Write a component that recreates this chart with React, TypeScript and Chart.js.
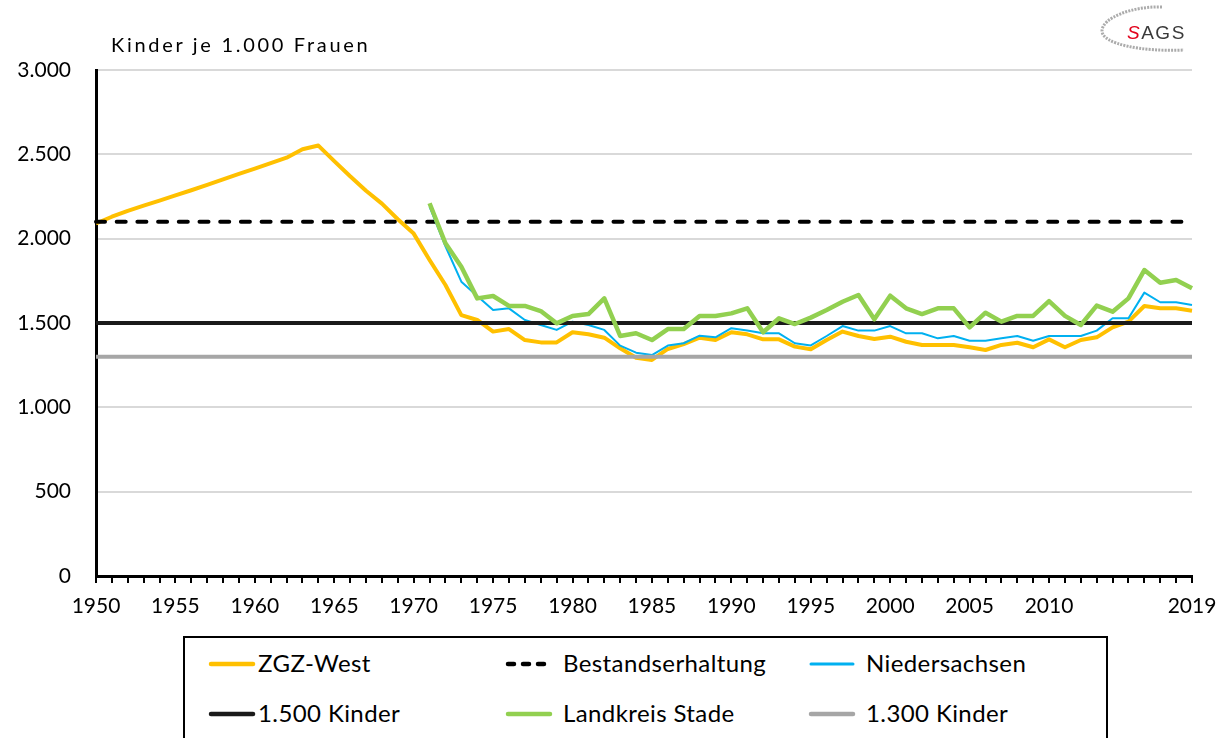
import React, { useEffect, useRef } from 'react';
import { Chart, registerables } from 'chart.js';

Chart.register(...registerables);

const years = [
  '1950', '1951', '1952', '1953', '1954', '1955', '1956', '1957', '1958', '1959',
  '1960', '1961', '1962', '1963', '1964', '1965', '1966', '1967', '1968', '1969',
  '1970', '1971', '1972', '1973', '1974', '1975', '1976', '1977', '1978', '1979',
  '1980', '1981', '1982', '1983', '1984', '1985', '1986', '1987', '1988', '1989',
  '1990', '1991', '1992', '1993', '1994', '1995', '1996', '1997', '1998', '1999',
  '2000', '2001', '2002', '2003', '2004', '2005', '2006', '2007', '2008', '2009',
  '2010', '2011', '2012', '2013', '2014', '2015', '2016', '2017', '2018', '2019',
];

const xTickLabels = ['1950', '1955', '1960', '1965', '1970', '1975', '1980', '1985', '1990', '1995', '2000', '2005', '2010', '2019'];

const zgzWest = [
  2090, 2130, 2165, 2196, 2226, 2257, 2287, 2319, 2352, 2384,
  2415, 2448, 2480, 2530, 2552, 2460, 2370, 2284, 2208, 2115,
  2030, 1874, 1725, 1547, 1518, 1449, 1464, 1399, 1385, 1385,
  1445, 1433, 1413, 1350, 1294, 1281, 1346, 1375, 1413, 1399,
  1445, 1433, 1403, 1403, 1360, 1344, 1399, 1449, 1423, 1405,
  1419, 1389, 1370, 1370, 1370, 1356, 1340, 1370, 1383, 1356,
  1403, 1356, 1399, 1415, 1474, 1508, 1601, 1587, 1587, 1573,
];

const niedersachsen = [
  null, null, null, null, null, null, null, null, null, null,
  null, null, null, null, null, null, null, null, null, null,
  null, 2190, 1955, 1745, 1660, 1577, 1587, 1518, 1488, 1459,
  1508, 1488, 1459, 1366, 1324, 1310, 1366, 1380, 1425, 1415,
  1469, 1455, 1439, 1439, 1380, 1367, 1423, 1482, 1455, 1455,
  1482, 1439, 1439, 1409, 1423, 1395, 1395, 1409, 1423, 1395,
  1423, 1423, 1423, 1455, 1528, 1528, 1680, 1623, 1623, 1607,
];

const landkreisStade = [
  null, null, null, null, null, null, null, null, null, null,
  null, null, null, null, null, null, null, null, null, null,
  null, 2210, 1973, 1834, 1646, 1660, 1601, 1601, 1571, 1498,
  1542, 1553, 1646, 1423, 1439, 1399, 1464, 1464, 1542, 1542,
  1557, 1587, 1445, 1528, 1494, 1532, 1577, 1626, 1666, 1522,
  1662, 1587, 1553, 1587, 1587, 1474, 1561, 1508, 1542, 1542,
  1630, 1542, 1488, 1603, 1567, 1646, 1814, 1739, 1755, 1706,
];

const bestandserhaltung = 2100;
const kinder1500 = 1500;
const kinder1300 = 1300;

const seriesNames = ['ZGZ-West', 'Bestandserhaltung', 'Niedersachsen', '1.500 Kinder', 'Landkreis Stade', '1.300 Kinder'];
const seriesColors = ['#FFC000', '#000000', '#00B0F0', '#1A1A1A', '#92D050', '#A6A6A6'];
const seriesWidths = [4, 4, 2, 4, 4.5, 4];

const fmt = (v: number) => {
  if (v >= 1000) {
    const th = Math.floor(v / 1000);
    const rest = String(v % 1000).padStart(3, '0');
    return `${th}.${rest}`;
  }
  return String(v);
};

const flat = (v: number) => [
  { x: years[0], y: v },
  { x: years[years.length - 1], y: v },
];

export default function App() {
  const ref = useRef<HTMLCanvasElement>(null);

  useEffect(() => {
    const canvas = ref.current;
    if (!canvas) return;
    const chart = new Chart(canvas, {
      type: 'line',
      data: {
        labels: years,
        datasets: [
          { label: seriesNames[0], data: zgzWest, borderColor: seriesColors[0], borderWidth: seriesWidths[0], order: 6 },
          { label: seriesNames[1], data: flat(bestandserhaltung) as any, borderColor: seriesColors[1], borderWidth: seriesWidths[1], borderDash: [9, 11.7], borderCapStyle: 'round', order: 5 },
          { label: seriesNames[2], data: niedersachsen, borderColor: seriesColors[2], borderWidth: seriesWidths[2], order: 4 },
          { label: seriesNames[3], data: flat(kinder1500) as any, borderColor: seriesColors[3], borderWidth: seriesWidths[3], order: 3 },
          { label: seriesNames[4], data: landkreisStade, borderColor: seriesColors[4], borderWidth: seriesWidths[4], order: 2 },
          { label: seriesNames[5], data: flat(kinder1300) as any, borderColor: seriesColors[5], borderWidth: seriesWidths[5], order: 1 },
        ] as any,
      },
      options: {
        responsive: false,
        animation: false,
        devicePixelRatio: 1,
        layout: { padding: { left: 0, top: 70, right: 37, bottom: 0 } },
        elements: {
          point: { radius: 0, hoverRadius: 0 },
          line: { tension: 0, borderJoinStyle: 'round', fill: false },
        },
        plugins: {
          legend: { display: false },
          tooltip: { enabled: false },
          title: { display: false },
        },
        scales: {
          x: {
            type: 'category',
            offset: false,
            grid: { display: true, drawOnChartArea: false, drawTicks: true, tickLength: 7, color: '#000', lineWidth: 2 },
            border: { display: true, color: '#000', width: 3 },
            ticks: {
              autoSkip: false,
              maxRotation: 0,
              minRotation: 0,
              padding: 11,
              color: '#000',
              font: { family: 'Lato', size: 21 },
              callback: (_v: any, idx: number) => (xTickLabels.includes(years[idx]) ? years[idx] : ''),
            },
            afterFit: (s: any) => { s.height = 49; },
          },
          y: {
            min: 0,
            max: 3000,
            grid: { color: '#D9D9D9', lineWidth: 2, drawTicks: false },
            border: { display: true, color: '#000', width: 3 },
            ticks: {
              stepSize: 500,
              padding: 25,
              color: '#000',
              font: { family: 'Lato', size: 21 },
              callback: (v: any) => fmt(Number(v)),
            },
            afterFit: (s: any) => { s.width = 96; },
          },
        },
      } as any,
    });
    return () => chart.destroy();
  }, []);

  const colX = [[208, 258], [505, 563], [808, 866]];
  const rowY = [664, 714];

  return (
    <div style={{ position: 'absolute', left: 0, top: 0, width: 1229, height: 738, overflow: 'hidden', background: '#fff', fontFamily: 'Lato, sans-serif', color: '#000' }}>
      <canvas ref={ref} width={1229} height={625} style={{ position: 'absolute', left: 0, top: 0, width: 1229, height: 625 }} />
      <div style={{ position: 'absolute', left: 111, top: 32, fontSize: 20, lineHeight: '24px', letterSpacing: 2.7, whiteSpace: 'nowrap' }}>
        Kinder je 1.000 Frauen
      </div>
      <svg style={{ position: 'absolute', left: 1080, top: 0 }} width={149} height={60} viewBox="0 0 149 60">
        <path d="M 82 7 C 52 6, 22 18, 22 31 C 22 44, 62 52, 104 50" fill="none" stroke="#9C9C9C" strokeWidth={3} strokeDasharray="2 1.2" opacity={0.85} />
        <text x={47} y={39} fontFamily="'Liberation Sans', Arial, sans-serif" fontSize={19} letterSpacing={1.5}>
          <tspan fill="#E2001A" fontStyle="italic">S</tspan>
          <tspan fill="#3A3A3A">AGS</tspan>
        </text>
      </svg>
      <div style={{ position: 'absolute', left: 183, top: 636, width: 925, height: 140, border: '2px solid #000', boxSizing: 'border-box' }} />
      {seriesNames.map((name, i) => {
        const col = i % 3;
        const row = Math.floor(i / 3);
        const cy = rowY[row];
        return (
          <React.Fragment key={name}>
            <svg style={{ position: 'absolute', left: colX[col][0], top: cy - 5 }} width={48} height={10}>
              <line x1={3} y1={5} x2={45} y2={5} stroke={seriesColors[i]} strokeWidth={i === 2 ? 3 : 4.5} strokeLinecap="round"
                strokeDasharray={i === 1 ? '6 9' : undefined} />
            </svg>
            <div style={{ position: 'absolute', left: colX[col][1], top: cy - 15, fontSize: 24, lineHeight: '28px', letterSpacing: 0.4, whiteSpace: 'nowrap' }}>
              {name}
            </div>
          </React.Fragment>
        );
      })}
    </div>
  );
}
